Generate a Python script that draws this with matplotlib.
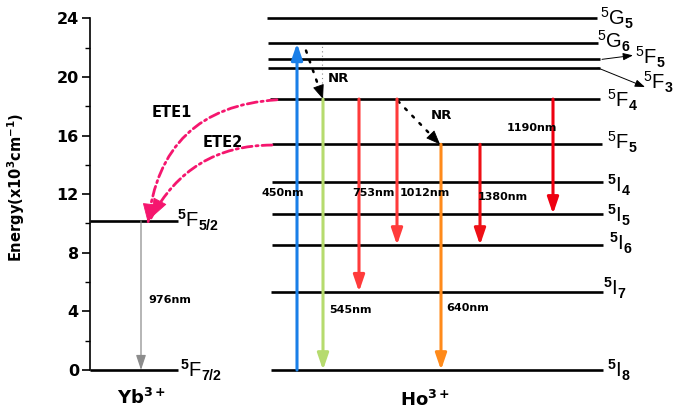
import matplotlib
matplotlib.use("Agg")
import matplotlib.pyplot as plt
import numpy as np

plt.rcParams["mathtext.fontset"] = "custom"
plt.rcParams["mathtext.rm"] = "Liberation Sans"
plt.rcParams["mathtext.bf"] = "Liberation Sans:bold"
plt.rcParams["mathtext.default"] = "regular"

# ---- energy levels (x10^3 cm^-1) ----
yb_names = ["F72", "F52"]
yb_energy = [0.0, 10.17]
yb_labels = [r"$^{\mathbf{5}}$F$_{\mathbf{7/2}}$", r"$^{\mathbf{5}}$F$_{\mathbf{5/2}}$"]

ho_names = ["I8", "I7", "I6", "I5", "I4", "F5", "F4", "F3", "F5b", "G6", "G5"]
ho_energy = [0.0, 5.34, 8.53, 10.65, 12.85, 15.40, 18.49, 20.61, 21.20, 22.29, 24.05]
ho_labels = [r"$^{\mathbf{5}}$I$_{\mathbf{8}}$", r"$^{\mathbf{5}}$I$_{\mathbf{7}}$",
             r"$^{\mathbf{5}}$I$_{\mathbf{6}}$", r"$^{\mathbf{5}}$I$_{\mathbf{5}}$",
             r"$^{\mathbf{5}}$I$_{\mathbf{4}}$", r"$^{5}$F$_{\mathbf{5}}$",
             r"$^{5}$F$_{\mathbf{4}}$", r"$^{5}$F$_{\mathbf{3}}$",
             r"$^{5}$F$_{\mathbf{5}}$", r"$^{5}$G$_{\mathbf{6}}$",
             r"$^{5}$G$_{\mathbf{5}}$"]

# ---- radiative transitions: (start level, end level, wavelength) ----
trans_start = ["I8", "F4", "F4", "F4", "F5", "F5", "F4"]
trans_end = ["G6", "I8", "I7", "I6", "I8", "I6", "I5"]
trans_text = ["450nm", "545nm", "753nm", "1012nm", "640nm", "1380nm", "1190nm"]

E = dict(zip(ho_names, ho_energy))
EY = dict(zip(yb_names, yb_energy))

# ---- layout (horizontal positions in axis units, label anchors) ----
yb_span = (90, 178)
ho_span = {"I8": (271, 603), "I7": (271, 603), "I6": (272, 603), "I5": (272, 603),
           "I4": (272, 603), "F5": (272, 602), "F4": (270, 600), "F3": (268, 600),
           "F5b": (268, 600), "G6": (268, 598), "G5": (267, 597)}
ho_label_pos = {"I8": (607, 0.0), "I7": (603, 5.55), "I6": (609, 8.62),
                "I5": (607, 10.55), "I4": (607, 12.62), "F5": (607, 15.5),
                "F4": (607, 18.4), "F3": (643, 19.6), "F5b": (635, 21.3),
                "G6": (597, 22.4), "G5": (600, 24.0)}
yb_label_pos = {"F72": (180, 0.0), "F52": (177, 10.2)}
trans_x = [297, 323, 359, 397, 441, 480, 553]
trans_color = ["#1a7fe8", "#b6db6e", "#ff3b3b", "#ff3b3b", "#ff8a1a", "#ee1016", "#ee0010"]
trans_text_pos = [(262, 12.08), (329, 4.09), (352, 12.08), (400, 12.08),
                  (446, 4.23), (478, 11.8), (507, 16.53)]

fig = plt.figure(figsize=(6.86, 4.12), dpi=100)
ax = fig.add_axes([90 / 686, 42 / 412, 596 / 686, 351.7 / 412])
ax.set_xlim(90, 686)
ax.set_ylim(0, 24)

for s in ("top", "right", "bottom"):
    ax.spines[s].set_visible(False)
ax.spines["left"].set_linewidth(1.2)
ax.set_xticks([])
ax.set_yticks(range(0, 25, 4))
ax.set_yticks(range(2, 24, 4), minor=True)
ax.tick_params(axis="y", which="major", length=6, width=1.2, pad=2)
ax.tick_params(axis="y", which="minor", length=3.5, width=1.0)
for t in ax.get_yticklabels():
    t.set_fontfamily("DejaVu Sans")
    t.set_fontweight("bold")
    t.set_fontsize(11.5)
ax.set_ylabel(r"Energy(x10$^3$cm$^{-1}$)", fontfamily="DejaVu Sans",
              fontweight="bold", fontsize=10.5)
ax.yaxis.set_label_coords(-0.106, 0.52)

lbl_kw = dict(fontfamily="Liberation Sans", fontsize=14.5, ha="left", va="center",
              clip_on=False)

# Yb levels
for n, e, lab in zip(yb_names, yb_energy, yb_labels):
    ax.hlines(e, *yb_span, color="black", lw=1.9, clip_on=False, zorder=3)
    x, y = yb_label_pos[n]
    ax.text(x, y, lab, **lbl_kw)

# Ho levels
for n, e, lab in zip(ho_names, ho_energy, ho_labels):
    ax.hlines(e, *ho_span[n], color="black", lw=1.9, clip_on=False, zorder=3)
    x, y = ho_label_pos[n]
    ax.text(x, y, lab, **lbl_kw)

# pointers for the crowded upper labels
ptr = dict(arrowstyle="-|>,head_length=0.6,head_width=0.22", color="black",
           lw=0.7, shrinkA=0, shrinkB=0, mutation_scale=10)
ax.annotate("", xy=(633, 21.47), xytext=(602, E["F5b"]), arrowprops=ptr,
            annotation_clip=False)
ax.annotate("", xy=(645, 19.31), xytext=(598, E["F3"]), arrowprops=ptr,
            annotation_clip=False)

# radiative transitions
small_kw = dict(fontfamily="DejaVu Sans", fontweight="bold", fontsize=8.0,
                ha="left", va="center")
for s, e_, txt, x, c, tp in zip(trans_start, trans_end, trans_text, trans_x,
                                trans_color, trans_text_pos):
    ax.annotate("", xy=(x, E[e_]), xytext=(x, E[s]),
                arrowprops=dict(arrowstyle="-|>,head_length=0.7,head_width=0.24",
                                color=c, lw=2.2, shrinkA=0, shrinkB=0,
                                mutation_scale=14),
                annotation_clip=False, zorder=4)
    ax.text(tp[0], tp[1], txt, zorder=5, **small_kw)

# Yb emission
ax.annotate("", xy=(141, EY["F72"]), xytext=(141, EY["F52"]),
            arrowprops=dict(arrowstyle="-|>,head_length=0.9,head_width=0.3",
                            color="#8c8c8c", lw=0.9, shrinkA=0, shrinkB=0,
                            mutation_scale=10),
            annotation_clip=False)
ax.text(148, 4.78, "976nm", **small_kw)


def patterned_arrow(p_from, p_to, rad, color, lw, dashes, head, scale):
    """Patterned (dashed / dotted) connector with a solid head at its end."""
    ax.annotate("", xy=p_to, xytext=p_from,
                arrowprops=dict(arrowstyle="-", color=color, lw=lw,
                                linestyle=dashes, shrinkA=0, shrinkB=0,
                                connectionstyle=f"arc3,rad={rad}"),
                annotation_clip=False)
    a = ax.transData.transform(p_from)
    b = ax.transData.transform(p_to)
    d = b - a
    ctrl = (a + b) / 2 + rad * np.array([d[1], -d[0]])
    tan = b - ctrl
    tan = tan / np.hypot(*tan)
    base = ax.transData.inverted().transform(b - tan * 3)
    ax.annotate("", xy=p_to, xytext=tuple(base),
                arrowprops=dict(arrowstyle=head, color=color, lw=0.6,
                                shrinkA=0, shrinkB=0, mutation_scale=scale),
                annotation_clip=False)


# non-radiative relaxations
ax.vlines(322, 19.6, E["G6"], color="#888888", lw=0.8, linestyles=(0, (1, 3)))
nr_head = "-|>,head_length=0.75,head_width=0.3"
patterned_arrow((306, 21.8), (323, E["F4"]), 0.0, "black", 1.8, (0, (0.9, 3.2)),
                nr_head, 12)
patterned_arrow((398, 18.35), (440, E["F5"]), 0.0, "black", 1.8, (0, (0.9, 3.2)),
                nr_head, 12)
nr_txt = dict(fontfamily="DejaVu Sans", fontweight="bold", fontsize=9.5,
              ha="left", va="center")
ax.text(328, 19.86, "NR", **nr_txt)
ax.text(431, 17.4, "NR", **nr_txt)

# energy transfer Ho -> Yb
ete_head = "-|>,head_length=0.8,head_width=0.3"
ete_dash = (0, (3.6, 1.4, 0.8, 1.4))
patterned_arrow((277, E["F4"] - 0.05), (148, EY["F52"] - 0.15), 0.42,
                "#f5166e", 2.0, ete_dash, ete_head, 16)
patterned_arrow((272, E["F5"] - 0.05), (151, EY["F52"] + 0.2), 0.3,
                "#f5166e", 2.0, ete_dash, ete_head, 16)
ete_txt = dict(fontfamily="DejaVu Sans", fontweight="bold", fontsize=10.5,
               ha="left", va="center")
ax.text(152, 17.54, "ETE1", **ete_txt)
ax.text(203, 15.5, "ETE2", **ete_txt)

# ion labels
ion_kw = dict(fontfamily="DejaVu Sans", fontweight="bold", fontsize=13,
              ha="center", va="center", clip_on=False)
ax.text(141, -1.9, r"Yb$^{3+}$", **ion_kw)
ax.text(425, -2.05, r"Ho$^{3+}$", **ion_kw)

fig.savefig("out.png", dpi=100)
